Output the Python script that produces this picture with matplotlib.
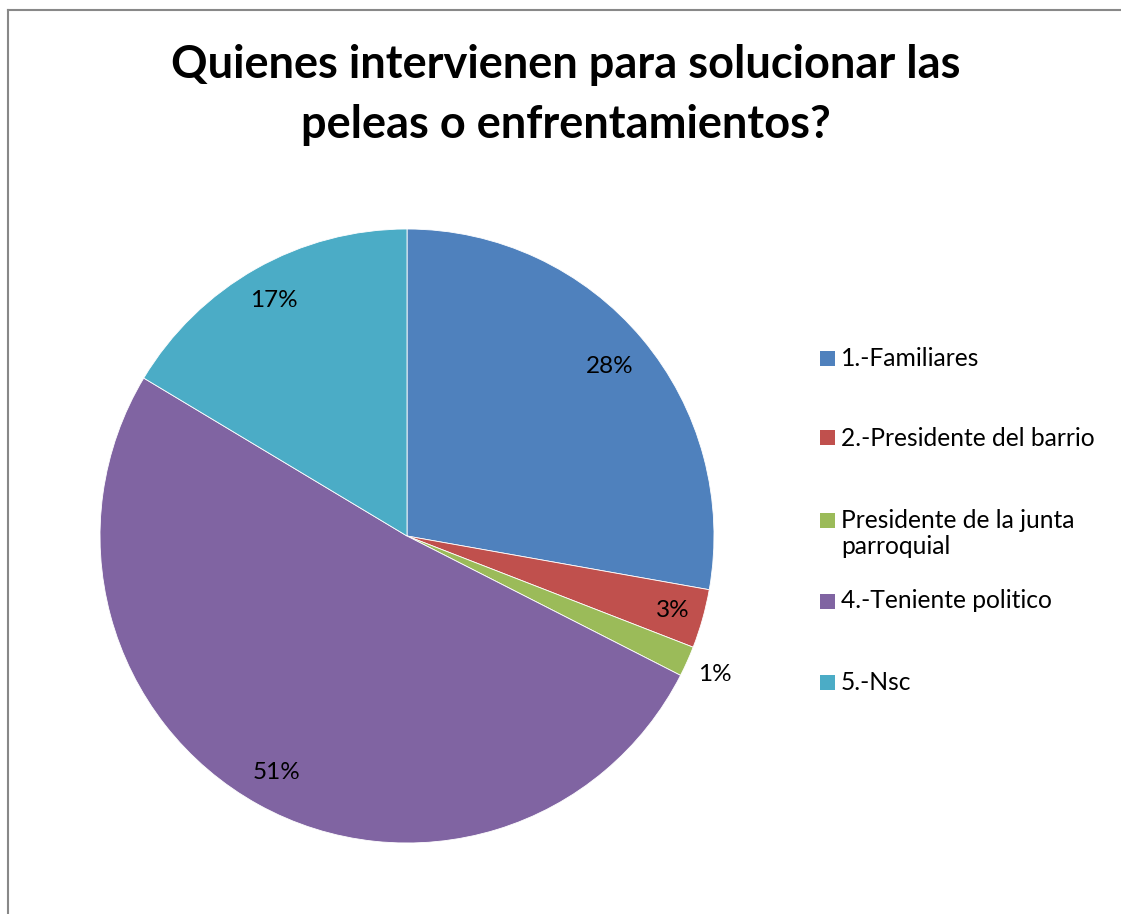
import numpy as np
import matplotlib.pyplot as plt
from matplotlib.patches import Rectangle
from matplotlib.lines import Line2D

categories = ['1.-Familiares', '2.-Presidente del barrio',
              'Presidente de la junta\nparroquial', '4.-Teniente politico', '5.-Nsc']
values = [27.8, 3.1, 1.6, 51.1, 16.4]
pct_labels = ['28%', '3%', '1%', '51%', '17%']
colors = ['#4F81BD', '#C0504D', '#9BBB59', '#8064A2', '#4BACC6']

plt.rcParams['font.family'] = ['Lato', 'DejaVu Sans']

W, H = 1121, 914
fig = plt.figure(figsize=(W / 100, H / 100), dpi=100)

# pie axes: center (407, 536), radius 307 px
cx, cy, r = 407, 536, 307
ax = fig.add_axes([(cx - r) / W, (H - cy - r) / H, 2 * r / W, 2 * r / H])
wedges, _ = ax.pie(values, colors=colors, startangle=90, counterclock=False,
                   radius=1.0, wedgeprops=dict(edgecolor='white', linewidth=0.6))
ax.set_xlim(-1, 1)
ax.set_ylim(-1, 1)
ax.set_aspect('equal')
ax.axis('off')

# percentage labels
label_dist = [0.86, 0.9, 1.1, 0.88, 0.88]
for w, lab, d in zip(wedges, pct_labels, label_dist):
    ang = np.deg2rad((w.theta1 + w.theta2) / 2)
    ax.text(d * np.cos(ang), d * np.sin(ang), lab, ha='center', va='center',
            fontsize=17.5, color='black')

# title
fig.text(566 / W, 1 - 95 / H,
         'Quienes intervienen para solucionar las\npeleas o enfrentamientos?',
         ha='center', va='center', fontsize=32.5, fontweight='bold', linespacing=1.5)

# legend
rows_y = [358, 438, 520, 601, 682]
for c, lab, y in zip(colors, categories, rows_y):
    fig.patches.append(Rectangle((820 / W, 1 - (y + 7.5) / H), 15 / W, 15 / H,
                                 transform=fig.transFigure, facecolor=c, edgecolor='none'))
    nl = lab.count('\n')
    fig.text(841 / W, 1 - (y + nl * 13.5) / H, lab, ha='left', va='center',
             multialignment='left', fontsize=17.7, linespacing=1.2)

# chart frame (left and top)
fig.add_artist(Line2D([8 / W, 8 / W], [0, 1 - 10 / H], transform=fig.transFigure,
                      color='#888888', linewidth=1.5))
fig.add_artist(Line2D([8 / W, 1], [1 - 10 / H, 1 - 10 / H], transform=fig.transFigure,
                      color='#888888', linewidth=1.5))

fig.savefig('out.png', dpi=100, facecolor='white')
